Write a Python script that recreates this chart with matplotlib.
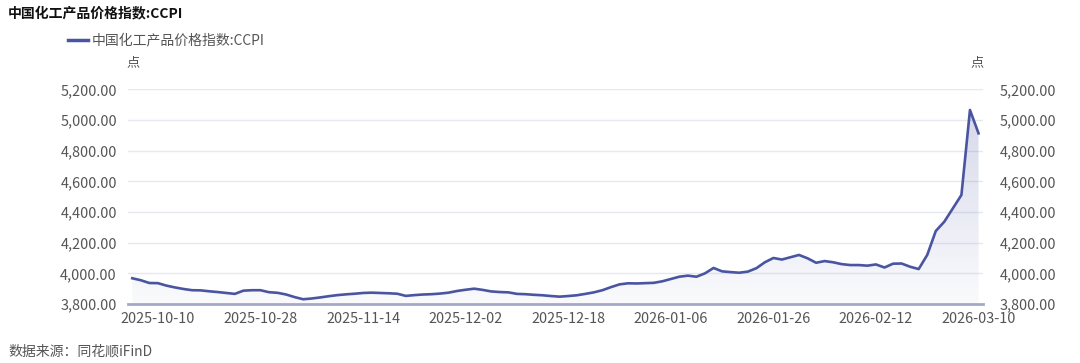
import matplotlib
matplotlib.use('Agg')
from matplotlib import pyplot as plt
from matplotlib.ticker import FuncFormatter
import numpy as np

plt.rcParams['font.family'] = ['Noto Sans CJK SC', 'DejaVu Sans']

# data (one point per published day)
title = '中国化工产品价格指数:CCPI'
series_name = '中国化工产品价格指数:CCPI'
unit = '点'
source = '数据来源：同花顺iFinD'

ccpi = [3968, 3955, 3937, 3936, 3920, 3908, 3898, 3890, 3889, 3883,
        3878, 3872, 3866, 3887, 3890, 3890, 3877, 3873, 3862, 3845,
        3831, 3836, 3843, 3851, 3858, 3863, 3867, 3872, 3874, 3872,
        3870, 3867, 3853, 3858, 3862, 3864, 3868, 3874, 3885, 3893,
        3900, 3892, 3882, 3878, 3876, 3866, 3864, 3860, 3857, 3852,
        3848, 3852, 3857, 3866, 3876, 3890, 3910, 3928, 3935, 3934,
        3936, 3938, 3948, 3963, 3978, 3985, 3978, 4000, 4035, 4013,
        4008, 4004, 4011, 4033, 4072, 4100, 4090, 4105, 4120, 4098,
        4069, 4080, 4072, 4060, 4054, 4054, 4050, 4058, 4038, 4063,
        4064, 4043, 4028, 4120, 4276, 4337, 4424, 4511, 5065, 4913]

date_labels = ['2025-10-10', '2025-10-28', '2025-11-14', '2025-12-02', '2025-12-18',
               '2026-01-06', '2026-01-26', '2026-02-12', '2026-03-10']
y_ticks = [3800, 4000, 4200, 4400, 4600, 4800, 5000, 5200]

line_color = '#4a55a2'
text_color = '#555555'

x = np.arange(len(ccpi))
tick_idx = [3 + 12 * k for k in range(len(date_labels))]

fig = plt.figure(figsize=(10.8, 3.63), dpi=100)
fig.patch.set_facecolor('white')
ax = fig.add_axes([0.1185, 0.1625, 0.7915, 0.5915])

ax.plot(x, ccpi, color=line_color, linewidth=1.9, zorder=3)

# gradient area under the line
fill = ax.fill_between(x, ccpi, 3800, color='none')
grad = np.linspace(0.0, 1.0, 256).reshape(-1, 1)
cmap = matplotlib.colors.LinearSegmentedColormap.from_list(
    'g', [(0.33, 0.37, 0.66, 0.03), (0.33, 0.37, 0.66, 0.26)])
img = ax.imshow(grad, cmap=cmap, aspect='auto', origin='lower',
                extent=[-0.5, len(ccpi) - 0.5, 3800, 5200], zorder=2)
img.set_clip_path(fill.get_paths()[0], transform=ax.transData)

ax.set_xlim(-0.5, len(ccpi) - 0.5)
ax.set_ylim(3800, 5200)
ax.set_yticks(y_ticks)
ax.yaxis.set_major_formatter(FuncFormatter(lambda v, p: f'{v:,.2f}'))
ax.set_xticks(tick_idx)
ax.set_xticklabels(date_labels)
ax.grid(axis='y', color='#e6e8f0', linewidth=1)
ax.set_axisbelow(True)

for s in ['top', 'left', 'right']:
    ax.spines[s].set_visible(False)
ax.spines['bottom'].set_color('#a3a9c9')
ax.spines['bottom'].set_linewidth(2)
ax.spines['bottom'].set_zorder(4)
ax.tick_params(axis='both', length=0, labelsize=10.4, colors=text_color)
ax.tick_params(axis='x', pad=6)
ax.tick_params(axis='y', pad=8)

ax2 = ax.twinx()
ax2.set_ylim(3800, 5200)
ax2.set_yticks(y_ticks)
ax2.yaxis.set_major_formatter(FuncFormatter(lambda v, p: f'{v:,.2f}'))
for s in ['top', 'left', 'right', 'bottom']:
    ax2.spines[s].set_visible(False)
ax2.tick_params(axis='y', length=0, labelsize=10.4, colors=text_color, pad=12)

# title, legend, units, source
fig.text(8 / 1080, 1 - 13 / 363, title, fontsize=10, fontweight='bold',
         color='#111111', va='center', ha='left')
fig.lines.append(plt.Line2D([68 / 1080, 88 / 1080], [1 - 40 / 363, 1 - 40 / 363],
                            color=line_color, linewidth=2.5, transform=fig.transFigure))
fig.text(92 / 1080, 1 - 40 / 363, series_name, fontsize=10, color=text_color,
         va='center', ha='left')
fig.text(133 / 1080, 1 - 63 / 363, unit, fontsize=9.5, color=text_color, va='center', ha='center')
fig.text(977 / 1080, 1 - 63 / 363, unit, fontsize=9.5, color=text_color, va='center', ha='center')
fig.text(8 / 1080, 1 - 352 / 363, source, fontsize=10, color=text_color, va='center', ha='left')

plt.savefig('out.png', dpi=100, facecolor='white')
